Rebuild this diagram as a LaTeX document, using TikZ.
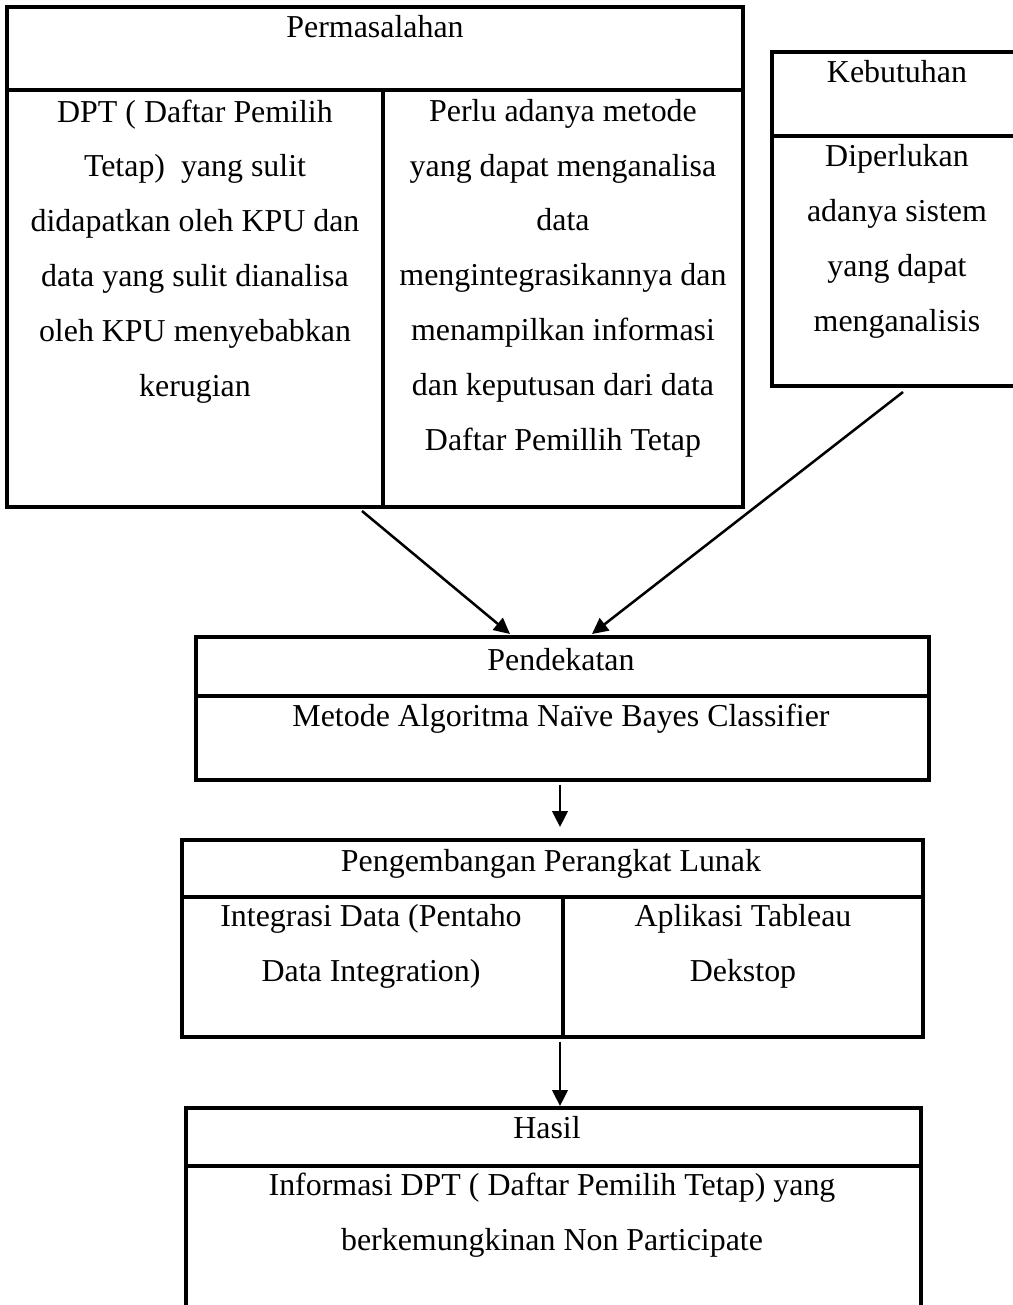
\documentclass[tikz,border=0pt]{standalone}
\usepackage{fontspec}
\setmainfont{Liberation Serif}
\usetikzlibrary{fit,arrows.meta}

\begin{document}
\begin{tikzpicture}[x=0.376pt, y=-0.376pt,
    box/.style={draw, line width=1.25pt, inner sep=0pt},
    arr/.style={line width=0.95pt, -{Triangle[length=6pt, width=5.8pt]}},
    txt/.style={align=center, inner sep=0pt, anchor=base,
      font=\fontsize{12}{20.6}\selectfont}]
  \useasboundingbox (0,0) rectangle (1013,1305);
  % kotak permasalahan (base = baris terakhir)
  \node[box, fit={(7,7) (743,507)}] (perm) {};
  \draw[line width=1.25pt] (perm.west |- 0,90) -- (perm.east |- 0,90);
  \draw[line width=1.25pt] (383,90) -- (perm.south -| 383,0);
  \node[txt] (permT) at (375,37) {Permasalahan};
  \node[txt] (permL) at (195,396) {DPT ( Daftar Pemilih\\Tetap)\ \ yang sulit\\didapatkan oleh KPU dan\\data yang sulit dianalisa\\oleh KPU menyebabkan\\kerugian};
  \node[txt] (permR) at (563,450) {Perlu adanya metode\\yang dapat menganalisa\\data\\mengintegrasikannya dan\\menampilkan informasi\\dan keputusan dari data\\Daftar Pemillih Tetap};
  % kotak kebutuhan
  \node[box, fit={(772,52) (1023,386)}] (keb) {};
  \draw[line width=1.25pt] (keb.west |- 0,136) -- (keb.east |- 0,136);
  \node[txt] (kebT) at (897,82) {Kebutuhan};
  \node[txt] (kebB) at (897,331) {Diperlukan\\adanya sistem\\yang dapat\\menganalisis};
  % kotak pendekatan
  \node[box, fit={(196,637) (929,780)}] (pend) {};
  \draw[line width=1.25pt] (pend.west |- 0,696) -- (pend.east |- 0,696);
  \node[txt] (pendT) at (561,670) {Pendekatan};
  \node[txt] (pendB) at (561,726) {Metode Algoritma Naïve Bayes Classifier};
  % kotak pengembangan
  \node[box, fit={(182,840) (923,1037)}] (peng) {};
  \draw[line width=1.25pt] (peng.west |- 0,897) -- (peng.east |- 0,897);
  \draw[line width=1.25pt] (563,897) -- (peng.south -| 563,0);
  \node[txt] (pengT) at (551,871) {Pengembangan Perangkat Lunak};
  \node[txt] (pengL) at (371,981) {Integrasi Data (Pentaho\\Data Integration)};
  \node[txt] (pengR) at (743,981) {Aplikasi Tableau\\Dekstop};
  % kotak hasil
  \node[box, fit={(186,1108) (921,1330)}] (hasil) {};
  \draw[line width=1.25pt] (hasil.west |- 0,1166) -- (hasil.east |- 0,1166);
  \node[txt] (hasilT) at (547,1138) {Hasil};
  \node[txt] (hasilB) at (552,1250) {Informasi DPT ( Daftar Pemilih Tetap) yang\\berkemungkinan Non Participate};
  % panah
  \coordinate (a1) at (362,511);
  \coordinate (a2) at (903,392);
  \draw[arr] (a1) -- (510,634);
  \draw[arr] (a2) -- (592,634);
  \draw[arr] (pend.south -| 560,0) ++(0,3) -- (560,827);
  \draw[arr] (peng.south -| 560,0) ++(0,3) -- (560,1106);
\end{tikzpicture}
\end{document}
